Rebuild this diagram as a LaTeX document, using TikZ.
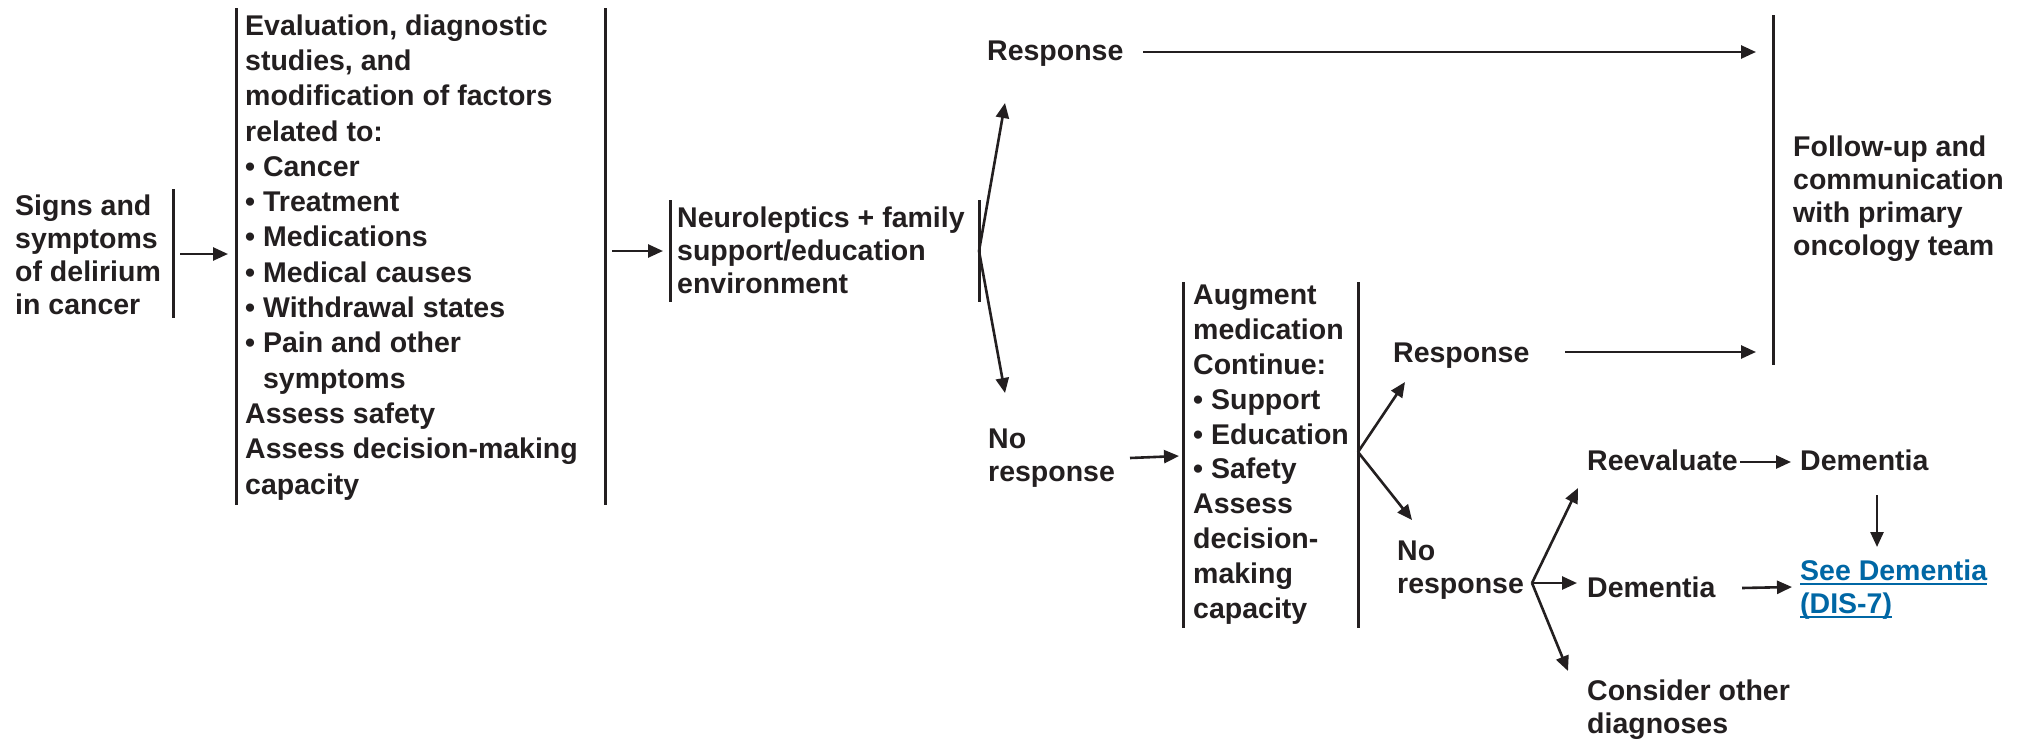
\documentclass[tikz,border=0pt]{standalone}
\usepackage{fontspec}
\setmainfont{Liberation Sans}
\usetikzlibrary{arrows.meta}
\definecolor{ink}{HTML}{231F20}
\definecolor{linkblue}{HTML}{0067A5}
\newcommand\myul[1]{\setbox0\hbox{#1}\rlap{\rule[-4.5pt]{\wd0}{2pt}}\box0}
\tikzset{
  txt/.style={anchor=base west, inner sep=0pt, align=left, text=ink,
    font=\bfseries\fontsize{28.5}{35.3}\selectfont},
  txta/.style={txt, font=\bfseries\fontsize{28.5}{34.8}\selectfont},
  txtb/.style={txt, font=\bfseries\fontsize{28.5}{32.8}\selectfont},
  bar/.style={draw=ink, line width=3pt},
  arr/.style={draw=ink, line width=2.6pt, -{Triangle[length=15pt,width=13pt]}},
}
\begin{document}
\begin{tikzpicture}[x=1pt,y=-1pt]
\fill[white] (0,0) rectangle (2020,744);
\useasboundingbox (0,0) rectangle (2020,744);

% text nodes (anchored at the baseline of their last line)
\node[txtb] (signs) at (15,314) {Signs and\\symptoms\\of delirium\\in cancer};
\node[txt] (eval) at (245,494) {Evaluation, diagnostic\\studies, and\\modification of factors\\related to:\\\textbullet\ Cancer\\\textbullet\ Treatment\\\textbullet\ Medications\\\textbullet\ Medical causes\\\textbullet\ Withdrawal states\\\textbullet\ Pain and other\\\hphantom{\textbullet\ }symptoms\\Assess safety\\Assess decision-making\\capacity};
\node[txtb] (neuro) at (677,293) {Neuroleptics + family\\support/education\\environment};
\node[txtb] (resp1) at (987,60) {Response};
\node[txtb] (follow) at (1793,255) {Follow-up and\\communication\\with primary\\oncology team};
\node[txtb] (noresp1) at (988,481) {No\\response};
\node[txta] (augment) at (1193,618) {Augment\\medication\\Continue:\\\textbullet\ Support\\\textbullet\ Education\\\textbullet\ Safety\\Assess\\decision-\\making\\capacity};
\node[txtb] (resp2) at (1393,362) {Response};
\node[txtb] (noresp2) at (1397,593) {No\\response};
\node[txtb] (reeval) at (1587,470) {Reevaluate};
\node[txtb] (dem1) at (1800,470) {Dementia};
\node[txtb] (dem2) at (1587,597) {Dementia};
\node[txtb, text=linkblue] (see) at (1800,613) {\myul{See Dementia}\\\myul{(DIS-7)}};
\node[txtb] (consider) at (1587,733) {Consider other\\diagnoses};

% bars
\coordinate (sgT) at (173,189); \coordinate (sgB) at (173,318);
\coordinate (evLT) at (236,8); \coordinate (evLB) at (236,505);
\coordinate (evRT) at (605,8); \coordinate (evRB) at (605,505);
\coordinate (nuLT) at (670,200); \coordinate (nuLB) at (670,302);
\coordinate (nuRT) at (979,200); \coordinate (nuRB) at (979,302);
\coordinate (fuT) at (1773,15); \coordinate (fuB) at (1773,365);
\coordinate (auLT) at (1183,282); \coordinate (auLB) at (1183,628);
\coordinate (auRT) at (1358,282); \coordinate (auRB) at (1358,628);
\foreach \a/\b in {sgT/sgB,evLT/evLB,evRT/evRB,nuLT/nuLB,nuRT/nuRB,fuT/fuB,auLT/auLB,auRT/auRB}
  \draw[bar] (\a) -- (\b);

% connector end points
\coordinate (a1s) at (180,254); \coordinate (a1e) at (228,254);
\coordinate (a2s) at (612,251); \coordinate (a2e) at (663,251);
\coordinate (br1) at (979,251);
\coordinate (br1u) at (1005,103); \coordinate (br1d) at (1005,393);
\coordinate (r1s) at (1143,52); \coordinate (r1e) at (1756,52);
\coordinate (n1s) at (1130,458); \coordinate (n1e) at (1179,456);
\coordinate (br2) at (1358,452);
\coordinate (br2u) at (1405,382); \coordinate (br2d) at (1412,520);
\coordinate (r2s) at (1565,352); \coordinate (r2e) at (1756,352);
\coordinate (br3) at (1532,583);
\coordinate (br3u) at (1578,488); \coordinate (br3r) at (1577,583); \coordinate (br3d) at (1568,671);
\coordinate (reS) at (1740,462); \coordinate (reE) at (1791,462);
\coordinate (d1s) at (1877,495); \coordinate (d1e) at (1877,547);
\coordinate (d2s) at (1742,588); \coordinate (d2e) at (1792,587);

\draw[arr] (a1s) -- (a1e);
\draw[arr] (a2s) -- (a2e);
\draw[arr] (br1) -- (br1u);
\draw[arr] (br1) -- (br1d);
\draw[arr] (r1s) -- (r1e);
\draw[arr] (n1s) -- (n1e);
\draw[arr] (br2) -- (br2u);
\draw[arr] (br2) -- (br2d);
\draw[arr] (r2s) -- (r2e);
\draw[arr] (br3) -- (br3u);
\draw[arr] (br3) -- (br3r);
\draw[arr] (br3) -- (br3d);
\draw[arr] (reS) -- (reE);
\draw[arr] (d1s) -- (d1e);
\draw[arr] (d2s) -- (d2e);
\end{tikzpicture}
\end{document}
